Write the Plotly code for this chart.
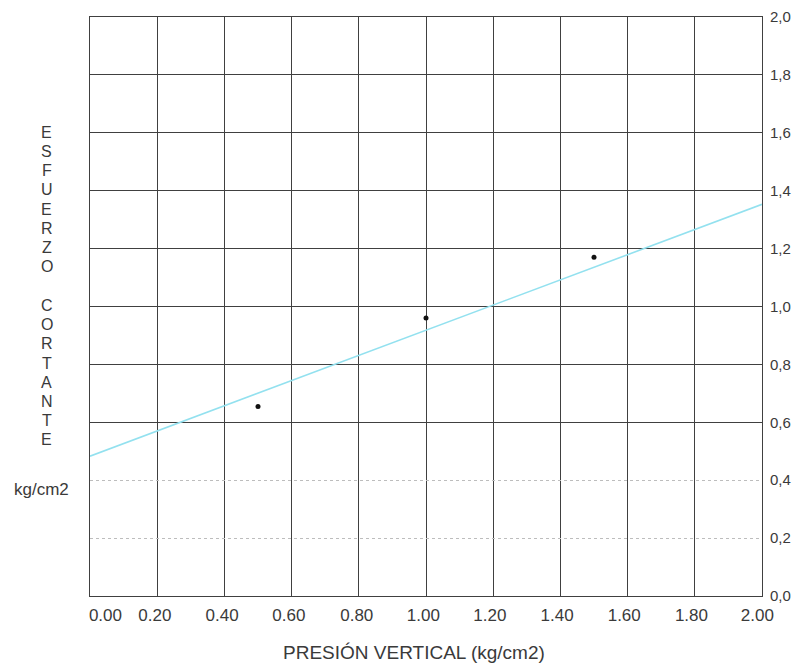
import plotly.graph_objects as go

# Data
presion = [0.5, 1.0, 1.5]
esfuerzo = [0.655, 0.96, 1.17]
recta_x = [0.0, 2.0]
recta_y = [0.483, 1.353]

x_grid = [0.0, 0.2, 0.4, 0.6, 0.8, 1.0, 1.2, 1.4, 1.6, 1.8, 2.0]
x_label_pos = [0.046, 0.193, 0.393, 0.592, 0.794, 0.992, 1.19, 1.39, 1.59, 1.79, 1.986]
x_labels = ["0.00", "0.20", "0.40", "0.60", "0.80", "1.00", "1.20", "1.40", "1.60", "1.80", "2.00"]
y_vals = [0.0, 0.2, 0.4, 0.6, 0.8, 1.0, 1.2, 1.4, 1.6, 1.8, 2.0]
y_labels = ["0,0", "0,2", "0,4", "0,6", "0,8", "1,0", "1,2", "1,4", "1,6", "1,8", "2,0"]
y_dark_grid = [0.6, 0.8, 1.0, 1.2, 1.4, 1.6, 1.8]
y_light_grid = [0.2, 0.4]
y_title_letters = list("ESFUERZO") + [""] + list("CORTANTE")

FONT = "Liberation Sans, Arial, sans-serif"
TXT = "#3a3a3a"
GRID = "#404040"

L, R, T, B = 90, 38, 17, 74
W, H = 800, 670
PH = H - T - B
PW = W - L - R

fig = go.Figure()
fig.add_trace(go.Scatter(x=recta_x, y=recta_y, mode="lines",
                         line=dict(color="#93e1ef", width=1.6),
                         showlegend=False, hoverinfo="skip"))
fig.add_trace(go.Scatter(x=presion, y=esfuerzo, mode="markers",
                         marker=dict(color="#111111", size=5),
                         showlegend=False))
# dummy traces to activate the overlay axes
fig.add_trace(go.Scatter(x=[None], y=[None], xaxis="x2", yaxis="y2",
                         showlegend=False, hoverinfo="skip"))
fig.add_trace(go.Scatter(x=[None], y=[None], xaxis="x", yaxis="y3",
                         showlegend=False, hoverinfo="skip"))

fig.update_layout(
    width=W, height=H,
    margin=dict(l=L, r=R, t=T, b=B, autoexpand=False),
    paper_bgcolor="white", plot_bgcolor="white",
    font=dict(family=FONT, size=15, color=TXT),
    xaxis=dict(range=[0, 2], tickvals=x_grid, showticklabels=False,
               showgrid=True, gridcolor=GRID, gridwidth=1,
               showline=True, mirror=True, linecolor=GRID, linewidth=1,
               zeroline=False, ticks="", automargin=False),
    xaxis2=dict(range=[0, 2], overlaying="x", side="bottom", anchor="y",
                tickvals=x_label_pos, ticktext=x_labels, showgrid=False,
                zeroline=False, showline=False, ticks="", automargin=False,
                ticklabelstandoff=7,
                tickfont=dict(family=FONT, size=17, color=TXT)),
    yaxis=dict(range=[0, 2], tickvals=y_dark_grid, showticklabels=False,
               showgrid=True, gridcolor=GRID, gridwidth=1,
               showline=True, mirror=True, linecolor=GRID, linewidth=1,
               zeroline=False, ticks="", automargin=False),
    yaxis3=dict(range=[0, 2], overlaying="y", tickvals=y_light_grid,
                showticklabels=False, showgrid=True, gridcolor="#bdbdbd",
                griddash="dot", gridwidth=1, zeroline=False, showline=False,
                automargin=False),
    yaxis2=dict(range=[0, 2], overlaying="y", side="right", anchor="x",
                tickvals=y_vals, ticktext=y_labels, showgrid=False,
                zeroline=False, showline=False, ticks="", ticklabelstandoff=7,
                automargin=False,
                tickfont=dict(family=FONT, size=15, color=TXT)),
)

# vertical stacked y-axis title
first_y_px = 132.3
step_px = 19.23
for i, ch in enumerate(y_title_letters):
    if not ch:
        continue
    ypx = first_y_px + i * step_px
    fig.add_annotation(text=ch, xref="paper", yref="paper",
                       x=(46.7 - L) / PW, y=(H - B - ypx) / PH,
                       xanchor="center", yanchor="middle", showarrow=False,
                       font=dict(family=FONT, size=16, color=TXT))

fig.add_annotation(text="kg/cm2", xref="paper", yref="paper",
                   x=(41 - L) / PW, y=(H - B - 490) / PH,
                   xanchor="center", yanchor="middle",
                   showarrow=False, font=dict(family=FONT, size=17, color=TXT))
fig.add_annotation(text="PRESIÓN VERTICAL (kg/cm2)", xref="paper", yref="paper",
                   x=(414 - L) / PW, y=(H - B - 652) / PH,
                   xanchor="center", yanchor="middle",
                   showarrow=False, font=dict(family=FONT, size=19, color=TXT))

fig.write_html(
    "out.html",
    config={"displayModeBar": False},
    post_script="document.body.style.margin='0';document.body.style.overflow='hidden';",
)
